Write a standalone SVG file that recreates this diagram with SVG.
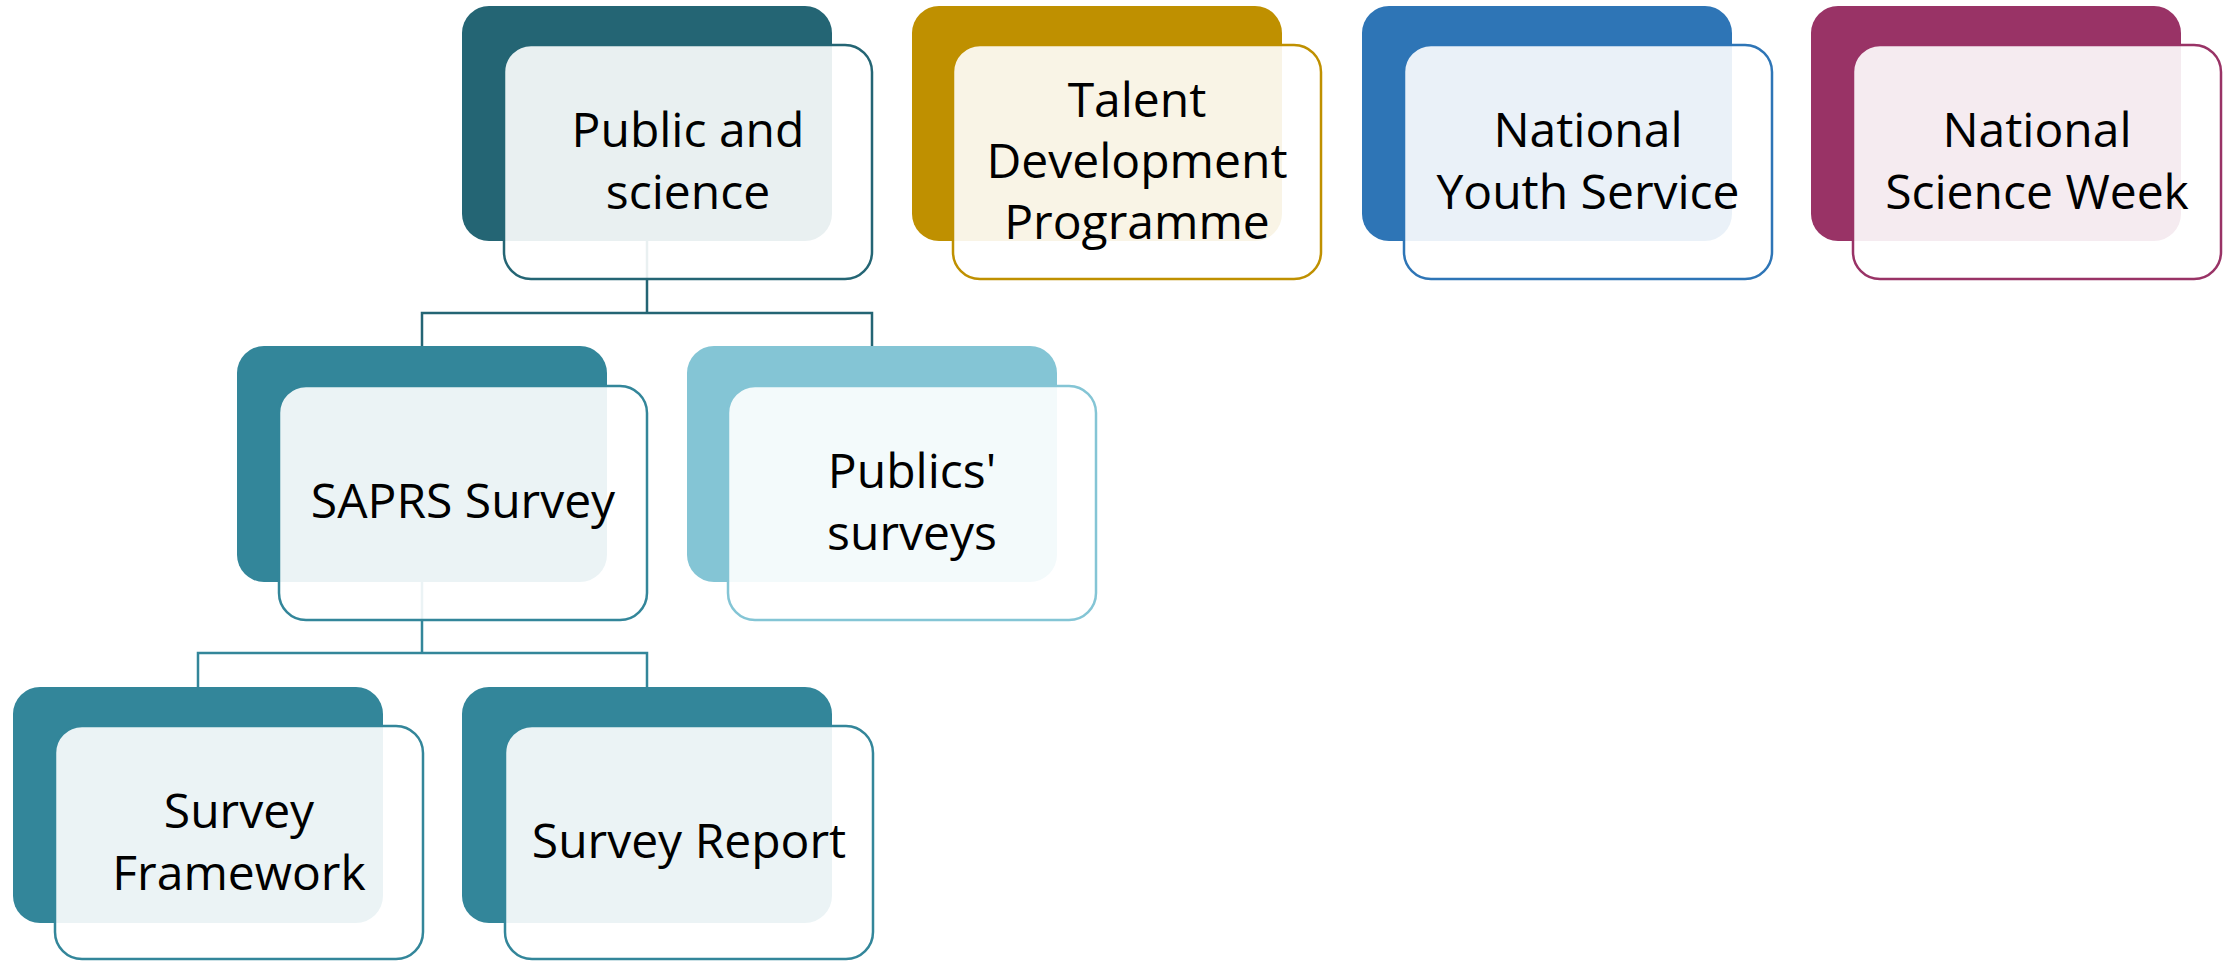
<svg xmlns="http://www.w3.org/2000/svg" width="2233" height="961" viewBox="0 0 2233 961">
<style>
.back{stroke:none}
.front{fill:#ffffff;fill-opacity:0.9;stroke-width:2.5}
.lbl{font-family:"Open Sans","Noto Sans",sans-serif;font-size:48px;fill:#000;text-anchor:middle}
.conn{fill:none;stroke-width:2.5}
</style>
<rect width="2233" height="961" fill="#ffffff"/>
<g id="connectors">
<path class="conn" stroke="#246574" d="M647 241 V313 M422 346 V313 H872 V346"/>
<path class="conn" stroke="#33869A" d="M422 582 V653 M198 687 V653 H647 V687"/>
</g>
<g id="node-public">
<rect class="back" x="462" y="6" width="370" height="235" rx="27" fill="#246574"/>
<rect class="front" x="504" y="45" width="368" height="234" rx="27" stroke="#246574"/>
<text class="lbl" x="688" y="147">Public and</text>
<text class="lbl" x="688" y="209">science</text>
</g>
<g id="node-talent">
<rect class="back" x="912" y="6" width="370" height="235" rx="27" fill="#BF9000"/>
<rect class="front" x="953" y="45" width="368" height="234" rx="27" stroke="#BF9000"/>
<text class="lbl" x="1137" y="117">Talent</text>
<text class="lbl" x="1137" y="178">Development</text>
<text class="lbl" x="1137" y="239">Programme</text>
</g>
<g id="node-youth">
<rect class="back" x="1362" y="6" width="370" height="235" rx="27" fill="#2E75B6"/>
<rect class="front" x="1404" y="45" width="368" height="234" rx="27" stroke="#2E75B6"/>
<text class="lbl" x="1588" y="147">National</text>
<text class="lbl" x="1588" y="209">Youth Service</text>
</g>
<g id="node-scienceweek">
<rect class="back" x="1811" y="6" width="370" height="235" rx="27" fill="#993366"/>
<rect class="front" x="1853" y="45" width="368" height="234" rx="27" stroke="#993366"/>
<text class="lbl" x="2037" y="147">National</text>
<text class="lbl" x="2037" y="209">Science Week</text>
</g>
<g id="node-saprs">
<rect class="back" x="237" y="346" width="370" height="236" rx="27" fill="#33869A"/>
<rect class="front" x="279" y="386" width="368" height="234" rx="27" stroke="#33869A"/>
<text class="lbl" x="463" y="518">SAPRS Survey</text>
</g>
<g id="node-publics">
<rect class="back" x="687" y="346" width="370" height="236" rx="27" fill="#84C5D5"/>
<rect class="front" x="728" y="386" width="368" height="234" rx="27" stroke="#84C5D5"/>
<text class="lbl" x="912" y="488">Publics'</text>
<text class="lbl" x="912" y="550">surveys</text>
</g>
<g id="node-framework">
<rect class="back" x="13" y="687" width="370" height="236" rx="27" fill="#33869A"/>
<rect class="front" x="55" y="726" width="368" height="233" rx="27" stroke="#33869A"/>
<text class="lbl" x="239" y="828">Survey</text>
<text class="lbl" x="239" y="890">Framework</text>
</g>
<g id="node-report">
<rect class="back" x="462" y="687" width="370" height="236" rx="27" fill="#33869A"/>
<rect class="front" x="505" y="726" width="368" height="233" rx="27" stroke="#33869A"/>
<text class="lbl" x="689" y="858">Survey Report</text>
</g>
</svg>
